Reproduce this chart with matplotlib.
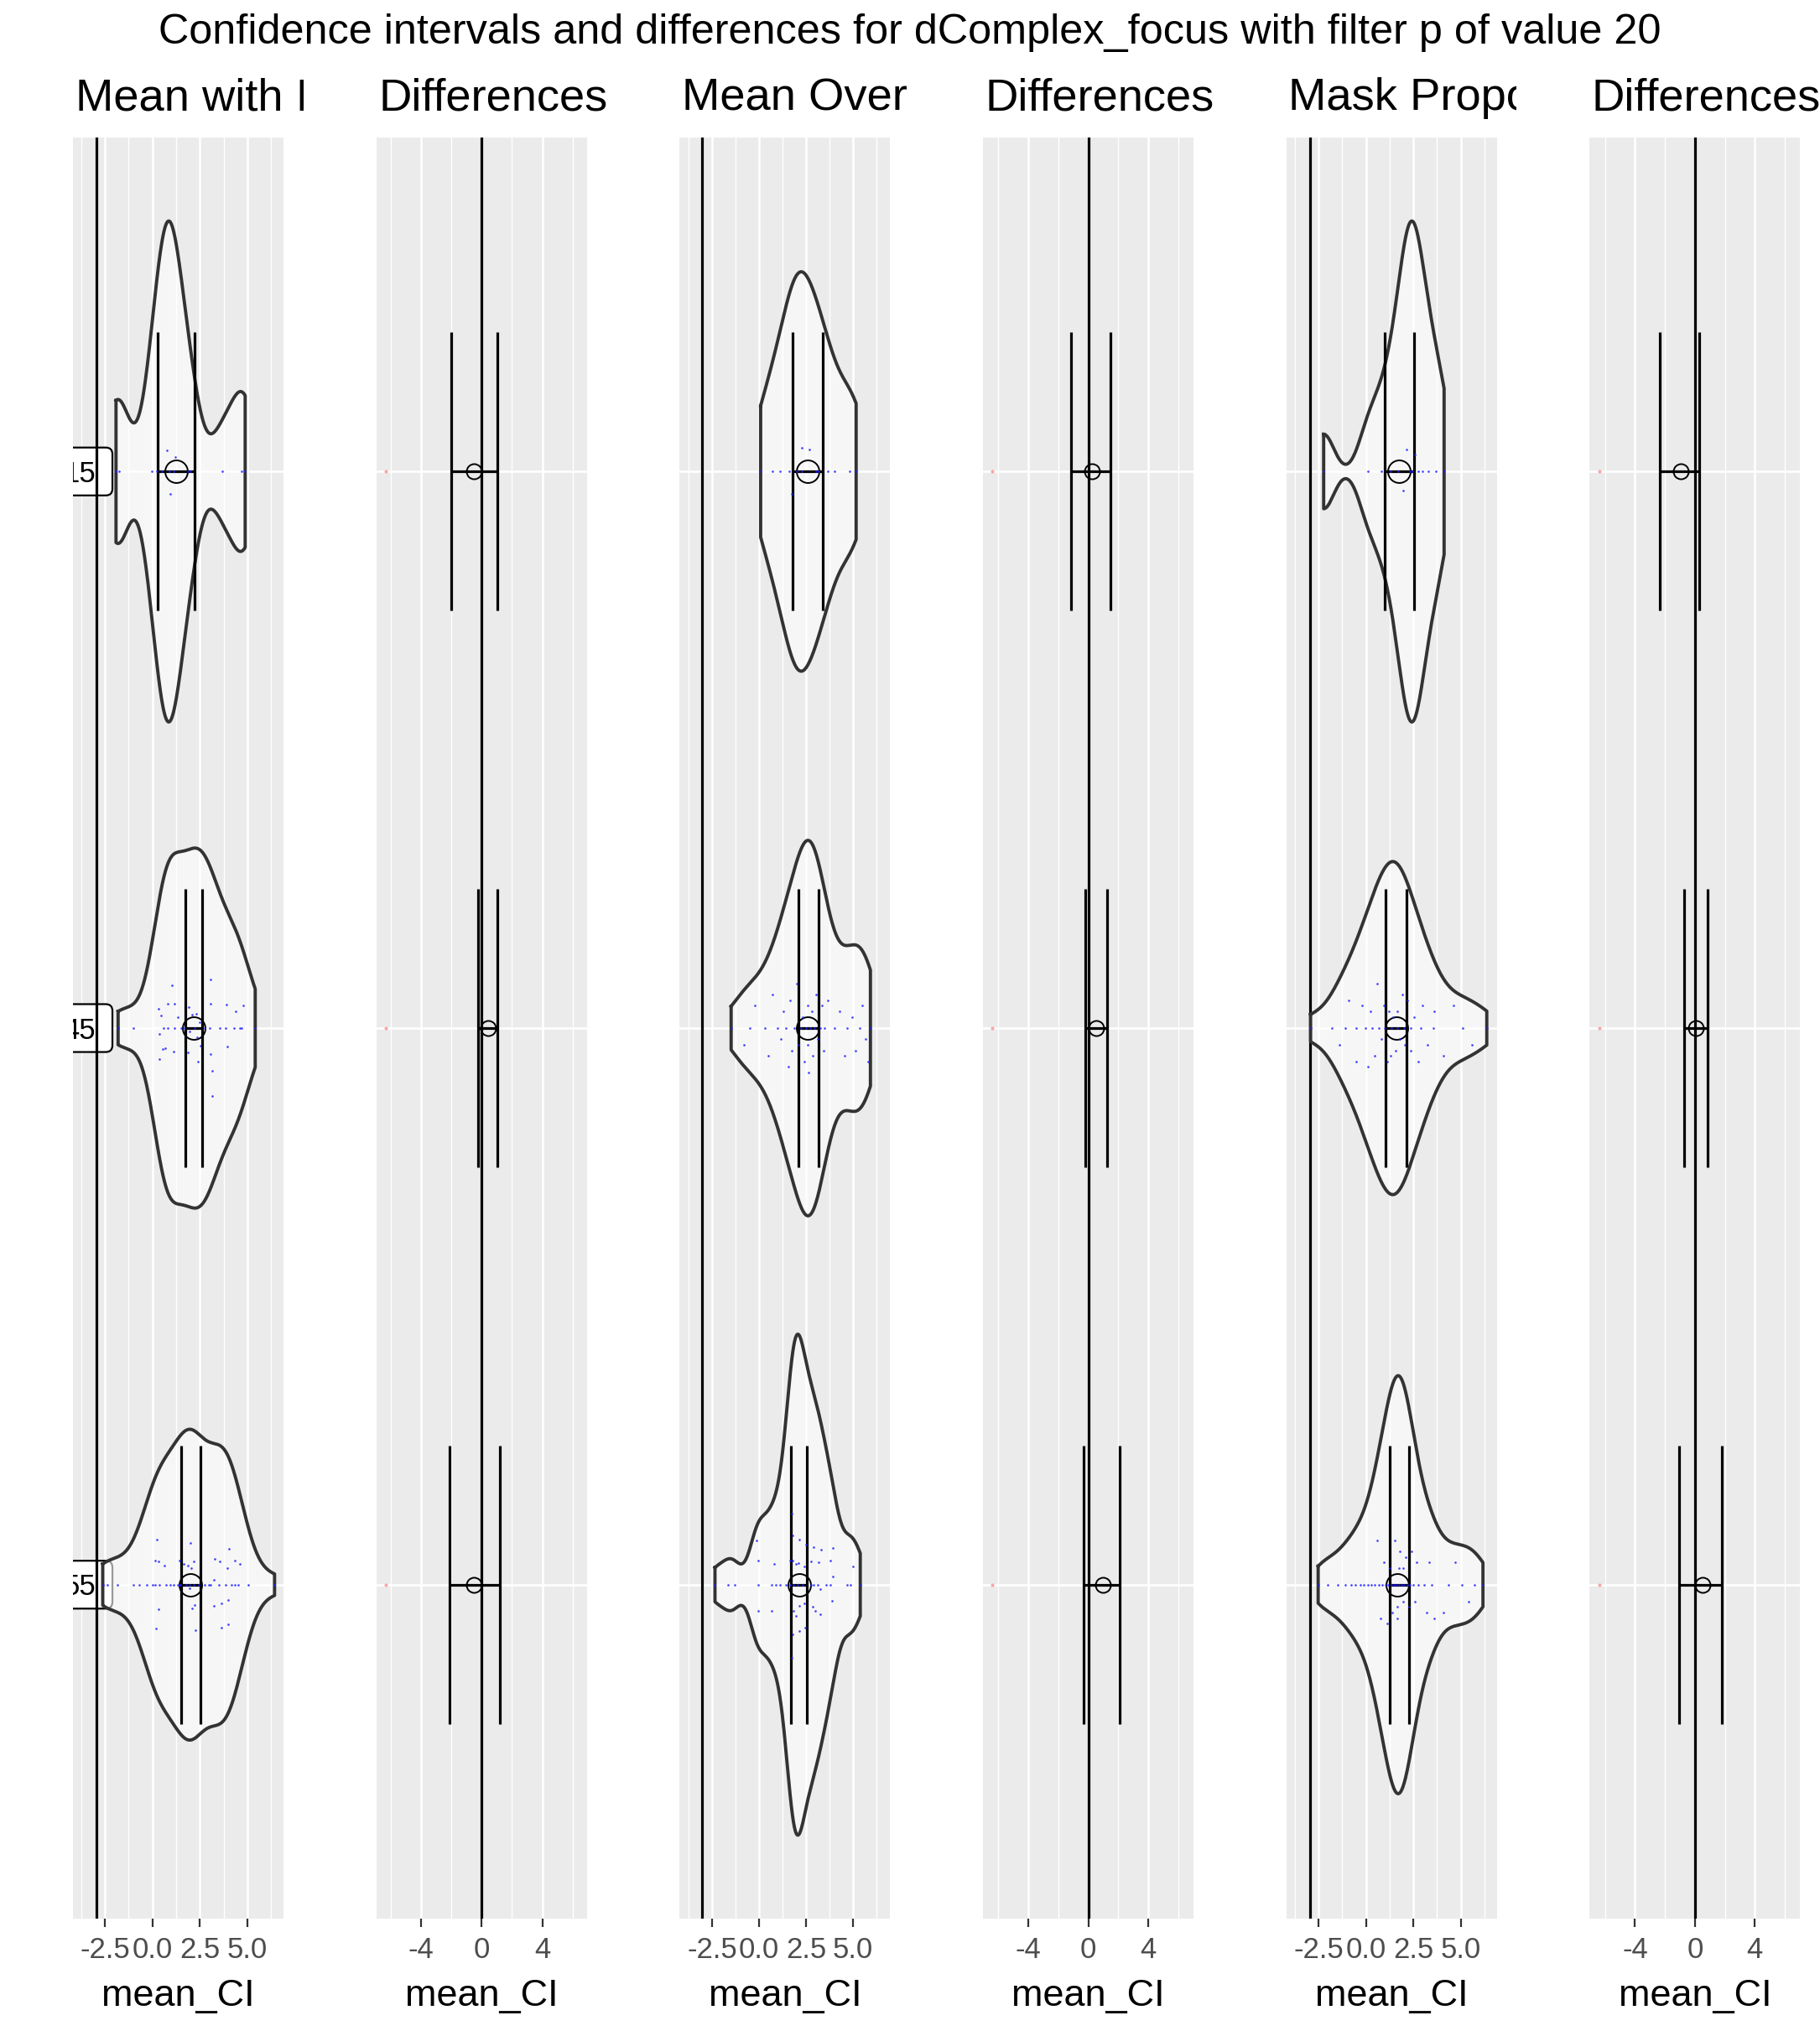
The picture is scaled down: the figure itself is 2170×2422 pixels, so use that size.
import numpy as np
import matplotlib
matplotlib.use("Agg")
import matplotlib.pyplot as plt
from matplotlib.patches import FancyBboxPatch
from matplotlib.transforms import Bbox, TransformedBbox

plt.rcParams['font.family'] = ['Liberation Sans', 'DejaVu Sans']

# ---------------- data ----------------
title = "Confidence intervals and differences for dComplex_focus with filter p of value 20"
panel_titles = ["Mean with I", "Differences", "Mean Over",
                "Differences", "Mask Propo", "Differences"]
categories = ["15", "45", "55"]
xlabel = "mean_CI"

mean_ticks = [-2.5, 0.0, 2.5, 5.0]
mean_ticklabels = ["-2.5", "0.0", "2.5", "5.0"]
mean_minor = [-3.75, -1.25, 1.25, 3.75, 6.25]
diff_ticks = [-4, 0, 4]
diff_ticklabels = ["-4", "0", "4"]
diff_minor = [-6, -2, 2, 6]

mean_xlims = [(-4.19, 6.91), (-4.22, 6.98), (-4.20, 6.90)]
diff_xlims = [(-6.93, 6.93), (-7.02, 7.02), (-7.03, 7.03)]

# threshold lines
mean_vline = [-2.95, -3.03, -2.96]
diff_vline = [0.0, 0.0, 0.0]

# ---- panel 1 : Mean with ... ----
p1_15_line = [-1.92, -1.75, -0.04, 0.22, 0.48, 0.88, 1.10, 1.88, 1.99, 3.69, 4.71, 4.89]
p1_15_jit_x = [0.78, 1.22, 0.92]
p1_15_jit_dy = [-0.038, -0.026, 0.041]

p1_45_line = [-1.81, -1.0, 0.58, 0.81, 1.17, 1.5, 1.69, 2.21, 2.77, 3.03, 3.56, 3.87,
              4.31, 4.6, 4.71, 5.42]
p1_45_jit_x = [3.08, 1.04, 0.82, 1.17, 3.08, 3.92, 4.8, 0.33, 1.93, 4.4,
               2.1, 2.32, 0.47, 1.35, 2.5, 0.38, 1.97, 2.37, 2.55, 3.96,
               0.55, 0.69, 1.13, 1.88, 3.08, 0.38, 2.41, 3.16, 3.16]
p1_45_jit_dy = [-0.088, -0.077, -0.044, -0.044, -0.044, -0.042, -0.041, -0.035, -0.038, -0.03,
                -0.024, -0.026, -0.023, -0.02, -0.011, 0.011, 0.006, 0.017, 0.032, 0.033,
                0.038, 0.036, 0.042, 0.044, 0.047, 0.056, 0.06, 0.077, 0.122]

p1_55_line = [-2.62, -2.37, -1.84, -1.0, -0.69, -0.29, 0.02, 0.15, 0.38, 0.73, 0.92, 1.1,
              1.32, 1.41, 1.47, 1.77, 1.94, 2.16, 2.43, 2.74, 2.96, 3.08, 3.52, 3.87,
              4.18, 4.36, 4.54, 5.07, 6.44]
p1_55_jit_x = [0.24, 2.01, 4.05, 0.15, 0.33, 1.44, 2.19, 3.3, 3.56, 4.36, 1.66, 4.62, 0.64,
               1.88, 2.06, 3.96, 3.25, 1.97, 4.0, 3.65, 2.23, 3.25, 2.1, 0.33, 4.0, 3.65,
               0.2, 2.28]
p1_55_jit_dy = [-0.081, -0.075, -0.065, -0.044, -0.042, -0.044, -0.042, -0.047, -0.042, -0.044,
                -0.038, -0.038, -0.035, -0.035, -0.03, -0.03, -0.008, 0.006, 0.027, 0.033,
                0.036, 0.038, 0.042, 0.044, 0.071, 0.077, 0.078, 0.081]

p1_lo = [0.26, 1.73, 1.50]
p1_hi = [2.22, 2.62, 2.53]
p1_mean = [1.23, 2.16, 1.99]

# ---- panel 3 : Mean Over... ----
p3_15_line = [0.09, 0.71, 1.13, 1.6, 2.0, 2.3, 3.05, 3.18, 3.66, 4.0, 4.83, 5.17]
p3_15_jit_x = [2.29, 2.7, 1.74]
p3_15_jit_dy = [-0.042, -0.04, 0.04]

p3_45_line = [-1.48, -0.5, 0.3, 1.0, 1.45, 1.9, 2.22, 2.5, 2.72, 2.96, 3.24, 3.5,
              4.0, 4.7, 5.35, 5.93]
p3_45_jit_x = [-0.8, -0.2, 0.5, 0.7, 1.15, 1.3, 1.55, 1.65, 1.75, 2.02, 2.12, 2.32,
               2.42, 2.58, 2.65, 2.8, 2.88, 3.05, 3.14, 3.35, 3.45, 3.65, 2.6, 4.3,
               4.55, 4.95, 5.15, 5.5, 5.65, 5.8]
p3_45_jit_dy = [0.03, -0.04, 0.05, -0.06, 0.02, -0.03, 0.07, -0.05, 0.04, -0.08,
                0.03, -0.02, 0.06, -0.04, 0.08, -0.03, 0.05, -0.06, 0.02, -0.04,
                0.04, -0.05, 0.03, -0.03, 0.05, -0.02, 0.04, -0.04, 0.02, 0.06]

p3_55_line = [-2.34, -1.63, -1.28, -0.03, 0.68, 0.9, 1.12, 1.44, 1.66, 1.84, 2.06, 2.32,
              2.77, 2.9, 3.12, 3.57, 3.79, 4.68, 4.86, 5.39]
p3_55_jit_x = [1.75, 1.79, 2.15, 2.5, -0.12, 2.9, 3.93, 3.3, -0.03, 1.66, 1.79, 2.1, 1.97,
               0.81, 2.77, 3.17, 3.79, 4.99, 2.41, 3.93, 3.26, 3.88, 2.86, 2.41, 2.15,
               -0.03, 0.68, 1.84, 2.99, 3.26, 1.97, 2.46, 2.15, 1.79, 1.75]
p3_55_jit_dy = [-0.128, -0.089, -0.081, -0.072, -0.08, -0.068, -0.066, -0.063, -0.044, -0.044,
                -0.044, -0.039, -0.038, -0.038, -0.042, -0.041, -0.044, -0.033, -0.033, -0.015,
                0.008, 0.029, 0.039, 0.033, 0.038, 0.047, 0.047, 0.047, 0.047, 0.053,
                0.056, 0.077, 0.083, 0.09, 0.131]

p3_lo = [1.81, 2.09, 1.72]
p3_hi = [3.39, 3.19, 2.56]
p3_mean = [2.57, 2.57, 2.13]

# ---- panel 5 : Mask Prop... ----
p5_15_line = [-2.23, 0.1, 0.8, 1.3, 1.7, 2.3, 2.45, 2.75, 3.0, 3.3, 3.7, 4.12]
p5_15_jit_x = [2.15, 2.6, 1.95]
p5_15_jit_dy = [-0.04, -0.03, 0.035]

p5_45_line = [-2.92, -1.8, -1.1, -0.5, -0.05, 0.32, 0.68, 1.0, 1.35, 1.65, 2.0, 2.38,
              2.88, 3.55, 5.1, 6.37]
p5_45_jit_x = [-1.4, -0.9, -0.5, -0.2, 0.1, 0.25, 0.45, 0.6, 0.8, 0.95, 1.1, 1.2, 1.3,
               1.45, 1.55, 1.65, 1.78, 1.9, 2.05, 2.2, 2.35, 2.55, 2.75, 3.0, 3.25, 3.6,
               4.1, 4.6, 5.6]
p5_45_jit_dy = [0.03, -0.05, 0.06, -0.04, 0.07, -0.03, 0.05, -0.08, 0.02, -0.04,
                0.06, -0.03, 0.05, -0.02, 0.04, -0.03, 0.02, -0.06, 0.03, -0.05,
                0.04, -0.02, 0.06, -0.04, 0.03, -0.03, 0.05, -0.04, 0.03]

p5_55_line = [-2.52, -2.0, -1.5, -1.1, -0.8, -0.55, -0.3, -0.1, 0.12, 0.28, 0.44, 0.68,
              0.87, 1.02, 1.18, 1.33, 1.47, 1.6, 1.73, 1.87, 2.02, 2.18, 2.32, 2.5, 2.76,
              3.05, 3.48, 4.35, 5.05, 5.7, 6.17]
p5_55_jit_x = [0.58, 0.78, 0.95, 1.1, 1.25, 1.4, 1.54, 1.67, 1.8, 1.95, 2.1, 2.25, 2.4,
               2.58, 2.67, 1.65, 1.95, 3.2, 3.35, 3.6, 1.72, 4.1, 4.7, 5.4]
p5_55_jit_dy = [-0.08, 0.06, -0.04, 0.07, -0.03, 0.05, -0.08, 0.04, -0.06, 0.03,
                -0.05, 0.04, -0.06, 0.03, -0.04, 0.06, -0.03, 0.05, -0.04, 0.06,
                -0.03, 0.05, -0.04, 0.03]

p5_lo = [0.97, 1.04, 1.24]
p5_hi = [2.55, 2.14, 2.26]
p5_mean = [1.73, 1.59, 1.66]

# ---- difference panels ----
p2_lo = [-1.98, -0.22, -2.10]
p2_hi = [1.04, 1.06, 1.22]
p2_mean = [-0.50, 0.45, -0.50]
p4_lo = [-1.14, -0.17, -0.33]
p4_hi = [1.50, 1.24, 2.10]
p4_mean = [0.26, 0.55, 0.98]
p6_lo = [-2.33, -0.70, -1.04]
p6_hi = [0.29, 0.87, 1.82]
p6_mean = [-0.95, 0.08, 0.50]
diff_red = [-6.29, -6.38, -6.39]

# ---------------- helpers ----------------
W, H, DPI = 2170, 2422, 100
GRAY_BG = '#EBEBEB'


def nrd0_kde(data, n=512):
    d = np.asarray(data, float)
    sd = d.std(ddof=1)
    q75, q25 = np.percentile(d, [75, 25])
    lo = min(sd, (q75 - q25) / 1.34)
    if lo <= 0:
        lo = sd if sd > 0 else 1.0
    bw = 0.9 * lo * len(d) ** (-0.2)
    grid = np.linspace(d.min(), d.max(), n)
    z = (grid[:, None] - d[None, :]) / bw
    dens = np.exp(-0.5 * z ** 2).sum(axis=1) / (len(d) * bw * np.sqrt(2 * np.pi))
    return grid, dens


def style_axis(ax, xlim, ticks, ticklabels, minor):
    ax.set_facecolor(GRAY_BG)
    for s in ax.spines.values():
        s.set_visible(False)
    ax.set_xlim(*xlim)
    ax.set_ylim(3.6, 0.4)
    ax.set_yticks([1, 2, 3])
    ax.set_xticks(ticks)
    ax.set_xticklabels(ticklabels)
    ax.set_xticks(minor, minor=True)
    ax.tick_params(axis='y', length=0, labelleft=False)
    ax.tick_params(axis='x', which='major', length=7.2, width=1.6, color='#333333',
                   labelcolor='#4D4D4D', labelsize=25, pad=8.0)
    ax.tick_params(axis='x', which='minor', length=0)
    ax.set_axisbelow(True)
    ax.grid(True, which='major', color='white', lw=1.8)
    ax.grid(True, which='minor', axis='x', color='white', lw=1.0)
    ax.set_xlabel(xlabel, fontsize=32.4, color='black')
    ax.xaxis.set_label_coords(0.5, (H - 2392 - 134) / 2124)
    ax.xaxis.label.set_va('baseline')


def draw_ci(ax, y, lo, hi, mean, ms):
    ax.hlines(y, lo, hi, color='black', lw=2.3, zorder=4)
    ax.vlines([lo, hi], y - 0.25, y + 0.25, color='black', lw=2.3, zorder=4)
    ax.plot([mean], [y], 'o', mfc='none', mec='black', ms=ms, mew=1.4, zorder=4.5)


fig = plt.figure(figsize=(W / DPI, H / DPI), dpi=DPI)
cell = W / 6.0

fig.text(0.5, 1 - 52 / H, title, ha='center', va='baseline', fontsize=36.3)

mean_panels = [
    ([(p1_15_line, p1_15_jit_x, p1_15_jit_dy), (p1_45_line, p1_45_jit_x, p1_45_jit_dy),
      (p1_55_line, p1_55_jit_x, p1_55_jit_dy)], p1_lo, p1_hi, p1_mean),
    ([(p3_15_line, p3_15_jit_x, p3_15_jit_dy), (p3_45_line, p3_45_jit_x, p3_45_jit_dy),
      (p3_55_line, p3_55_jit_x, p3_55_jit_dy)], p3_lo, p3_hi, p3_mean),
    ([(p5_15_line, p5_15_jit_x, p5_15_jit_dy), (p5_45_line, p5_45_jit_x, p5_45_jit_dy),
      (p5_55_line, p5_55_jit_x, p5_55_jit_dy)], p5_lo, p5_hi, p5_mean),
]
diff_panels = [(p2_lo, p2_hi, p2_mean), (p4_lo, p4_hi, p4_mean), (p6_lo, p6_hi, p6_mean)]

rows = np.arange(1, len(categories) + 1)

for i in range(6):
    left = i * cell + 87
    ax = fig.add_axes([left / W, 134 / H, 251 / W, 2124 / H])
    k = i // 2
    if i % 2 == 0:
        style_axis(ax, mean_xlims[k], mean_ticks, mean_ticklabels, mean_minor)
        groups, lo, hi, mn = mean_panels[k]
        vl = mean_vline[k]
        # group-size labels (only the first panel shows them)
        if k == 0:
            xr = ax.get_xlim()
            for r, cat in zip(rows, categories):
                box = FancyBboxPatch((xr[0] - 3.0, r - 0.043), (vl + 0.84) - (xr[0] - 3.0), 0.086,
                                     boxstyle='round,pad=0,rounding_size=0.35',
                                     mutation_aspect=0.034, fc='white', ec='black',
                                     lw=1.6, zorder=1.5, clip_on=True)
                ax.add_patch(box)
                ax.text(vl - 0.05, r + 0.019, cat, ha='right', va='baseline', fontsize=25,
                        color='black', zorder=1.6, clip_on=True)
        ax.axvline(vl, color='black', lw=2.3, zorder=2)
        profiles = [nrd0_kde(np.concatenate([g[0], g[1]])) for g in groups]
        dmax = max(p[1].max() for p in profiles)
        for r, (grid, dens), g, a, b, m in zip(rows, profiles, groups, lo, hi, mn):
            hw = 0.45 * dens / dmax
            ax.fill_between(grid, r - hw, r + hw, facecolor='white', alpha=0.6,
                            edgecolor='none', zorder=3)
            ox = np.concatenate([grid, grid[::-1], grid[:1]])
            oy = np.concatenate([r - hw, (r + hw)[::-1], [r - hw[0]]])
            ax.plot(ox, oy, color='#333333', lw=2.8, zorder=3.1, solid_joinstyle='round')
            draw_ci(ax, r, a, b, m, ms=19.4)
            ax.plot(g[0], np.full(len(g[0]), r), 'o', ms=1.9, color='#2020FF',
                    alpha=0.85, mew=0, zorder=5)
            ax.plot(g[1], r + np.asarray(g[2]), 'o', ms=1.9, color='#2020FF',
                    alpha=0.85, mew=0, zorder=5)
    else:
        style_axis(ax, diff_xlims[k], diff_ticks, diff_ticklabels, diff_minor)
        lo, hi, mn = diff_panels[k]
        ax.axvline(diff_vline[k], color='black', lw=2.3, zorder=2)
        for r, a, b, m in zip(rows, lo, hi, mn):
            draw_ci(ax, r, a, b, m, ms=13.0)
            ax.plot([diff_red[k]], [r], 'o', ms=2.9, color='red', alpha=0.35, mew=0, zorder=5)

    t = fig.text((left + 2.5) / W, 1 - 131 / H, panel_titles[i], ha='left', va='baseline',
                 fontsize=39.2, color='black')
    t.set_clip_box(TransformedBbox(Bbox([[i / 6.0, 0.0], [(i + 1) / 6.0, 1.0]]),
                                   fig.transFigure))
    t.set_clip_on(True)

fig.savefig('out.png', dpi=DPI)
